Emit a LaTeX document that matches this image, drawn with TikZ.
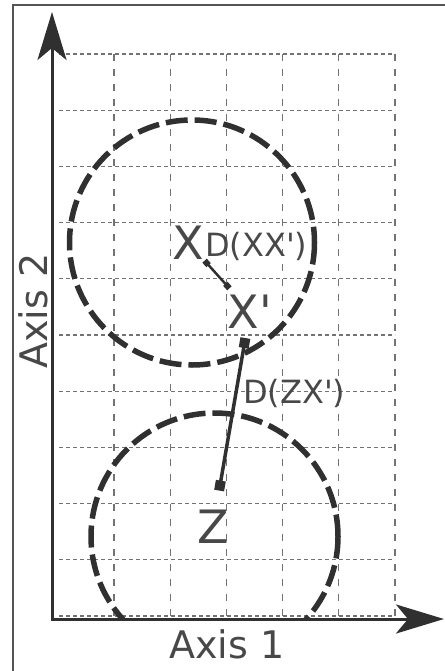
\documentclass[tikz,border=0pt]{standalone}
\usepackage{fontspec}
\setmainfont{DejaVu Sans}
\usetikzlibrary{arrows.meta}
\definecolor{inkgray}{RGB}{48,48,48}
\definecolor{textgray}{RGB}{72,72,72}
\definecolor{gridgray}{RGB}{115,115,115}
\definecolor{framegray}{RGB}{85,85,85}

\begin{document}
\begin{tikzpicture}[x=1pt, y=-1pt,
  letter/.style={font=\fontsize{46}{50}\selectfont, text=textgray, inner sep=0pt, anchor=base},
  dlabel/.style={font=\fontsize{32}{36}\selectfont, text=textgray, inner sep=0pt, anchor=base west},
  axislabel/.style={font=\fontsize{38}{42}\selectfont, text=textgray, inner sep=0pt, anchor=base},
  gridh/.style={gridgray, line width=1.1pt, dash pattern=on 4pt off 3pt},
  gridv/.style={gridgray, line width=1.1pt, dash pattern=on 7pt off 8pt},
  axisline/.style={inkgray, line width=3pt, line cap=rect, -{Stealth[length=48pt, width=29pt, inset=12pt]}},
  region/.style={inkgray, line width=5.5pt, dash pattern=on 22pt off 7pt},
  shortdist/.style={inkgray, line width=2.5pt, {Square[length=6pt, width=6pt]}-{Square[length=6pt, width=6pt]}},
  longdist/.style={inkgray, line width=3.5pt, {Square[length=10pt, width=10pt]}-{Square[length=10pt, width=10pt]}}]
  \useasboundingbox (0,0) rectangle (444,671);

  % frame
  \draw[framegray, line width=1.5pt] (13,5) rectangle (470,700);

  % grid
  \foreach \c in {1,...,6}
    \draw[gridv] (57.8+56.2*\c, 54) -- (57.8+56.2*\c, 616);
  \foreach \r in {0,...,10}
    \draw[gridh] (59, 54+56.2*\r) -- (395, 54+56.2*\r);

  % neighbourhoods
  \draw[region] (192,242.5) circle[radius=122.5];
  \begin{scope}
    \clip (0,0) rectangle (444,619);
    \draw[region] (214.5,536.5) circle[radius=123.5];
  \end{scope}

  % axes
  \coordinate (origin) at (52,619);
  \coordinate (ytip) at (52,12);
  \coordinate (xtip) at (444,619);
  \draw[axisline] (origin) -- (ytip);
  \draw[axisline] (origin) -- (xtip);
  \node[axislabel] (axis1) at (227,658) {Axis 1};
  \node[axislabel, rotate=90] (axis2) at (47,311) {Axis 2};

  % points
  \node[letter] (x) at (188,259) {X};
  \node[letter] (xp) at (250,328) {X\textquotesingle};
  \node[letter] (z) at (213,543) {Z};
  \node[dlabel] (dxx) at (205,256) {D(XX\textquotesingle)};
  \node[dlabel] (dzx) at (243,403) {D(ZX\textquotesingle)};

  % distances
  \draw[shortdist, shorten <=2pt, shorten >=8pt] (x) -- (xp);
  \draw[longdist, shorten <=19pt, shorten >=10pt] (z) -- (xp);
\end{tikzpicture}
\end{document}
